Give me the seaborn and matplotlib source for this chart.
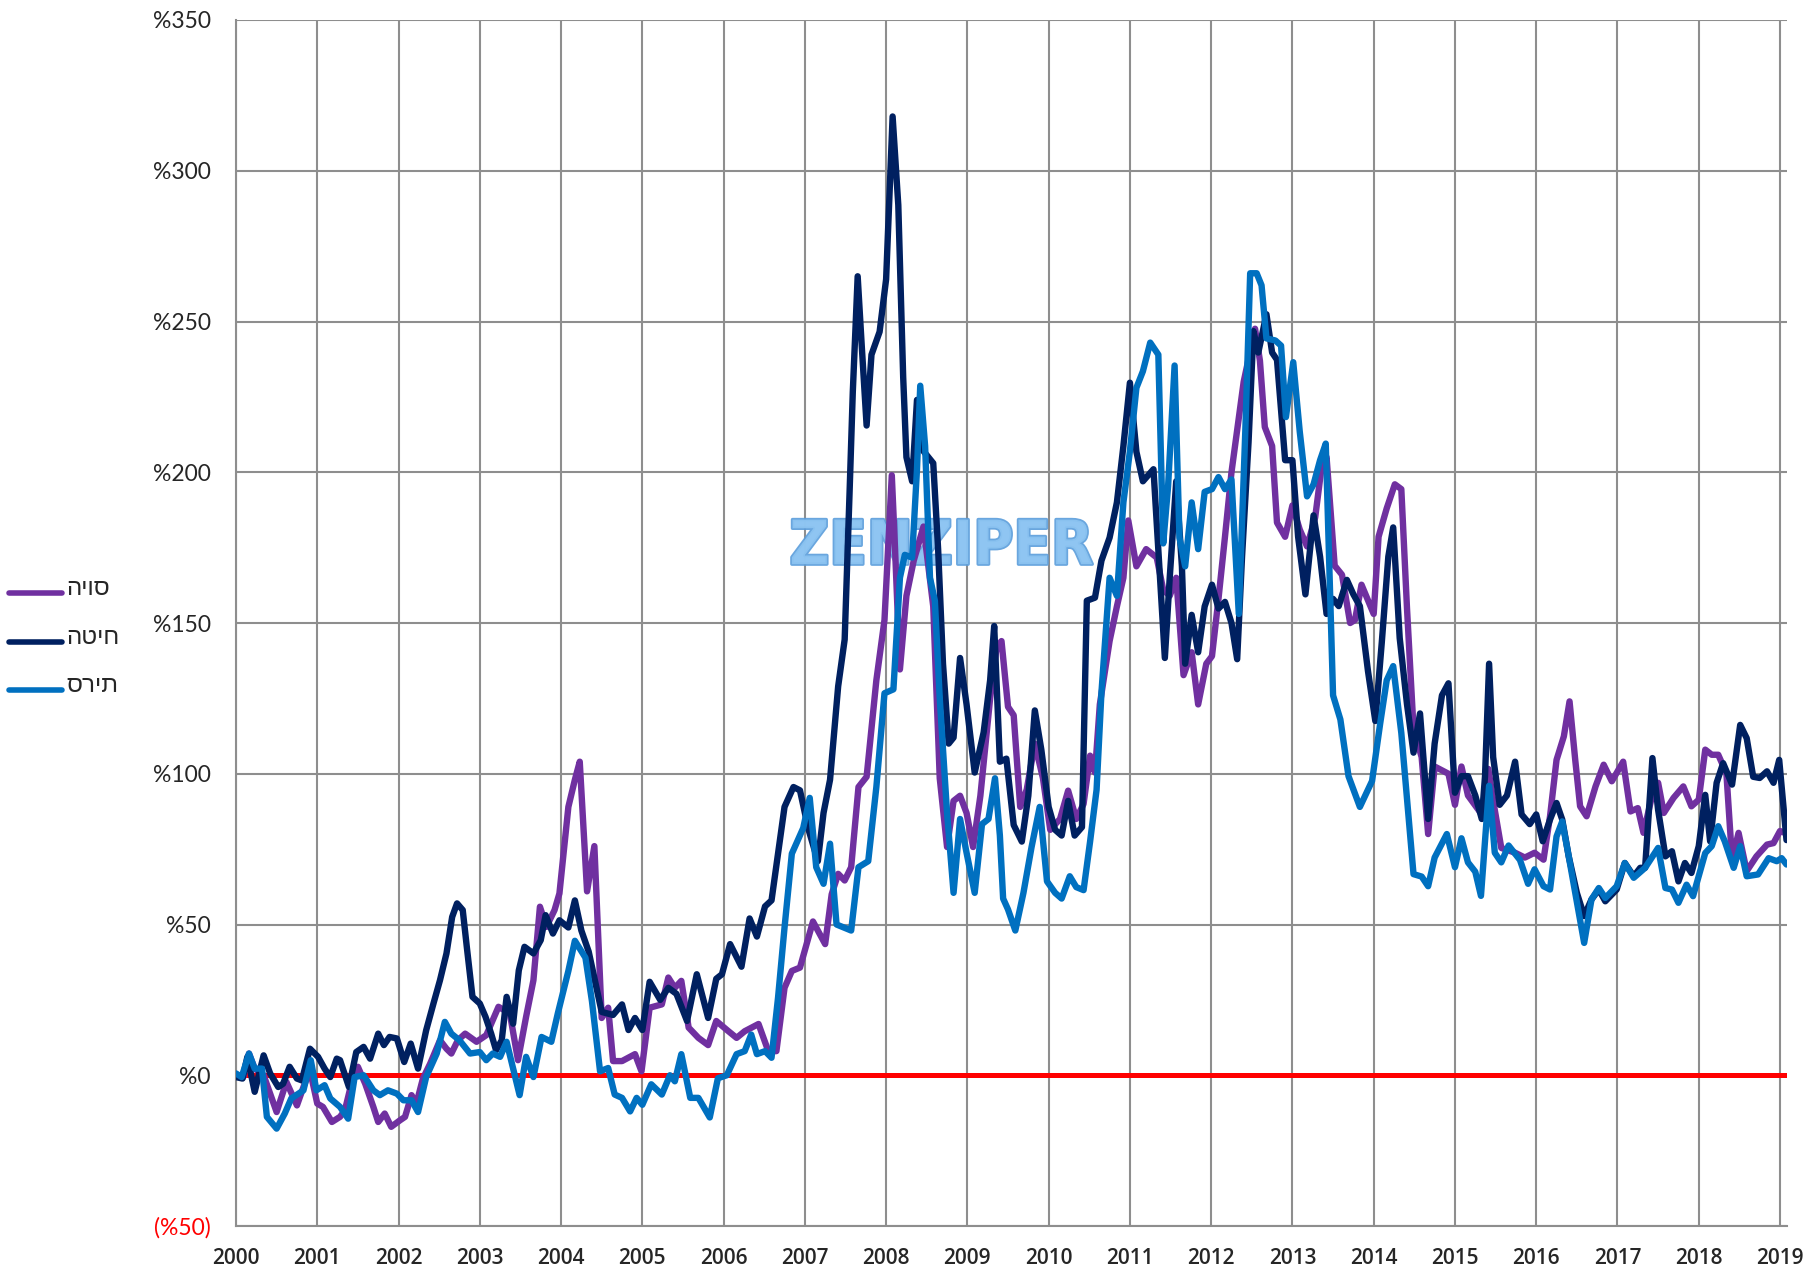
import numpy as np
import pandas as pd
import seaborn as sns
import matplotlib.pyplot as plt
import matplotlib.patheffects as pe
from matplotlib.lines import Line2D

# series names (legend order) and colours
names = ['סויה', 'חיטה', 'תירס']
colors = ['#7030A0', '#002060', '#0070C0']

# soy (סויה) - time in decimal years, value in %
soy_t = [2000.00, 2000.09, 2000.16, 2000.23, 2000.34, 2000.50, 2000.62, 2000.75, 2000.83, 2000.91,
         2001.00, 2001.07, 2001.18, 2001.28, 2001.34, 2001.42, 2001.50, 2001.59, 2001.69, 2001.75,
         2001.83, 2001.91, 2002.02, 2002.08, 2002.16, 2002.22, 2002.30, 2002.39, 2002.51, 2002.59,
         2002.65, 2002.73, 2002.82, 2002.96, 2003.08, 2003.23, 2003.37, 2003.47, 2003.57, 2003.66,
         2003.74, 2003.82, 2003.92, 2003.98, 2004.09, 2004.17, 2004.23, 2004.32, 2004.41, 2004.50,
         2004.58, 2004.64, 2004.75, 2004.91, 2004.99, 2005.09, 2005.24, 2005.32, 2005.40, 2005.48,
         2005.57, 2005.69, 2005.81, 2005.91, 2006.06, 2006.16, 2006.26, 2006.43, 2006.55, 2006.65,
         2006.75, 2006.84, 2006.94, 2007.10, 2007.25, 2007.33, 2007.41, 2007.49, 2007.57, 2007.66,
         2007.76, 2007.88, 2007.98, 2008.07, 2008.11, 2008.17, 2008.25, 2008.34, 2008.46, 2008.58,
         2008.66, 2008.75, 2008.83, 2008.91, 2008.99, 2009.07, 2009.16, 2009.28, 2009.36, 2009.42,
         2009.50, 2009.57, 2009.65, 2009.73, 2009.83, 2009.93, 2010.02, 2010.14, 2010.24, 2010.34,
         2010.43, 2010.51, 2010.57, 2010.63, 2010.75, 2010.84, 2010.92, 2010.98, 2011.08, 2011.20,
         2011.33, 2011.41, 2011.49, 2011.57, 2011.66, 2011.76, 2011.84, 2011.94, 2012.01, 2012.09,
         2012.17, 2012.25, 2012.40, 2012.54, 2012.60, 2012.66, 2012.75, 2012.81, 2012.91, 2013.00,
         2013.09, 2013.18, 2013.28, 2013.36, 2013.42, 2013.52, 2013.61, 2013.71, 2013.77, 2013.85,
         2014.00, 2014.06, 2014.16, 2014.26, 2014.34, 2014.41, 2014.49, 2014.59, 2014.67, 2014.75,
         2014.92, 2015.00, 2015.08, 2015.16, 2015.33, 2015.41, 2015.49, 2015.57, 2015.74, 2015.86,
         2015.98, 2016.09, 2016.17, 2016.25, 2016.34, 2016.41, 2016.48, 2016.54, 2016.62, 2016.73,
         2016.83, 2016.93, 2017.07, 2017.16, 2017.25, 2017.32, 2017.42, 2017.50, 2017.57, 2017.69,
         2017.81, 2017.91, 2018.00, 2018.08, 2018.16, 2018.24, 2018.34, 2018.41, 2018.49, 2018.59,
         2018.71, 2018.84, 2018.92, 2019.00, 2019.06]
soy_v = [0, -0.6, 7.2, 2.2, 0, -12.2, -2.2, -10, -3.9, 1.7,
         -9.4, -10.5, -15.5, -13.8, -11.6, -2.8, 2.8, -2.8, -10.5, -15.5,
         -12.7, -17.1, -14.9, -13.8, -6.6, -9.4, -1.1, 3.9, 11.6, 8.8,
         7.2, 11.6, 13.8, 11.1, 13.3, 22.7, 20.5, 5, 19.4, 31.5,
         55.9, 49.2, 54.8, 60.3, 89, 98, 104, 61, 76, 19,
         22.4, 4.7, 4.7, 7, 1.3, 22.4, 23.5, 32.4, 29, 31.3,
         15.8, 12.4, 10, 18, 14.6, 12.4, 14.6, 17, 8, 8,
         29, 34.6, 35.7, 51, 43.5, 60, 66.8, 64.6, 69, 95.6,
         99, 131, 151, 199, 174.5, 134.6, 159, 170.7, 182, 155.5,
         98.5, 75.7, 91, 92.7, 87, 75.7, 92.7, 125, 142, 144,
         122.2, 119.4, 89, 94.7, 110, 98.5, 81.4, 85, 94.4, 85,
         90, 106, 100.4, 123, 144, 155.5, 165, 184, 168.8, 174.5,
         171.7, 161, 159, 165, 132.7, 140.3, 123, 136.5, 139, 158,
         178.6, 200, 230, 247.6, 237, 215, 208.7, 183.3, 178.6, 189,
         181, 175.4, 185, 202, 205, 169, 166, 150, 151, 162.7,
         153, 178.6, 188, 196, 194.4, 154.8, 115, 105.5, 80, 102.4,
         100, 89.7, 102.4, 92.8, 86.5, 101.6, 88, 75.4, 73.8, 72.2,
         73.8, 71.5, 85.9, 104.6, 112.4, 124, 104.6, 89.2, 85.9, 95.8,
         103, 97.5, 104, 87.5, 88.6, 80.4, 92, 97, 87, 92,
         95.8, 89.2, 91.4, 108, 106.3, 106.3, 100.2, 71.5, 80.4, 67.7,
         72.6, 76.5, 77, 81, 80.4]

# wheat (חיטה)
wheat_t = [2000.00, 2000.08, 2000.14, 2000.23, 2000.34, 2000.42, 2000.52, 2000.58, 2000.66, 2000.75,
           2000.81, 2000.91, 2001.01, 2001.09, 2001.16, 2001.24, 2001.28, 2001.39, 2001.48, 2001.57,
           2001.65, 2001.75, 2001.82, 2001.89, 2001.98, 2002.07, 2002.15, 2002.24, 2002.34, 2002.43,
           2002.51, 2002.59, 2002.66, 2002.72, 2002.79, 2002.84, 2002.91, 2003.00, 2003.07, 2003.14,
           2003.20, 2003.27, 2003.33, 2003.41, 2003.48, 2003.55, 2003.66, 2003.75, 2003.81, 2003.90,
           2003.98, 2004.09, 2004.17, 2004.25, 2004.34, 2004.42, 2004.50, 2004.64, 2004.75, 2004.83,
           2004.91, 2005.00, 2005.09, 2005.22, 2005.32, 2005.42, 2005.55, 2005.67, 2005.81, 2005.91,
           2005.98, 2006.08, 2006.22, 2006.32, 2006.41, 2006.51, 2006.59, 2006.67, 2006.75, 2006.86,
           2006.94, 2007.04, 2007.16, 2007.23, 2007.31, 2007.41, 2007.49, 2007.55, 2007.59, 2007.65,
           2007.70, 2007.76, 2007.82, 2007.92, 2008.00, 2008.08, 2008.15, 2008.21, 2008.25, 2008.32,
           2008.38, 2008.46, 2008.58, 2008.64, 2008.70, 2008.77, 2008.83, 2008.91, 2008.99, 2009.09,
           2009.20, 2009.28, 2009.33, 2009.40, 2009.48, 2009.57, 2009.67, 2009.75, 2009.83, 2009.91,
           2010.00, 2010.08, 2010.16, 2010.24, 2010.32, 2010.41, 2010.47, 2010.57, 2010.65, 2010.75,
           2010.84, 2010.92, 2011.00, 2011.08, 2011.16, 2011.29, 2011.37, 2011.43, 2011.49, 2011.57,
           2011.64, 2011.68, 2011.76, 2011.84, 2011.92, 2012.01, 2012.09, 2012.17, 2012.25, 2012.32,
           2012.38, 2012.46, 2012.52, 2012.58, 2012.68, 2012.75, 2012.81, 2012.91, 2013.00, 2013.07,
           2013.16, 2013.26, 2013.34, 2013.42, 2013.50, 2013.57, 2013.67, 2013.75, 2013.83, 2013.93,
           2014.02, 2014.10, 2014.18, 2014.24, 2014.32, 2014.41, 2014.49, 2014.57, 2014.67, 2014.75,
           2014.84, 2014.92, 2015.00, 2015.08, 2015.16, 2015.25, 2015.33, 2015.37, 2015.42, 2015.47,
           2015.55, 2015.64, 2015.74, 2015.82, 2015.92, 2016.00, 2016.08, 2016.17, 2016.25, 2016.32,
           2016.40, 2016.50, 2016.59, 2016.68, 2016.77, 2016.85, 2016.99, 2017.09, 2017.20, 2017.28,
           2017.34, 2017.43, 2017.50, 2017.59, 2017.67, 2017.75, 2017.83, 2017.91, 2018.00, 2018.08,
           2018.14, 2018.22, 2018.30, 2018.41, 2018.51, 2018.59, 2018.67, 2018.75, 2018.84, 2018.92,
           2018.99, 2019.08]
wheat_v = [-0.6, -1.1, 6.1, -5.5, 6.6, 0.6, -3.9, -2.8, 2.8, -1.1,
           -1.7, 8.8, 6.1, 2.2, -0.6, 5.5, 5, -3.9, 7.7, 9.4,
           5.5, 13.8, 10, 12.7, 12.2, 4.4, 10.5, 2.2, 14.9, 23.8,
           31.5, 40.4, 52.5, 57, 54.8, 42.6, 26, 23.8, 19.4, 13.8,
           8.3, 11.6, 26, 17.1, 34.8, 42.6, 40.4, 44.8, 53.1, 47,
           51.4, 49, 58, 48, 41, 31, 21, 20, 23.5, 15,
           19, 15, 31, 25, 29, 27, 18, 33.5, 19, 32,
           33.5, 43.5, 36, 52, 46, 56, 58, 73.5, 89, 95.6,
           94.5, 82, 71, 87, 98, 129, 144.5, 193, 226.6, 265,
           242, 215.5, 239, 246.6, 264, 318, 288.6, 231.6, 205, 197,
           224, 207, 203, 174.5, 136.5, 110, 112, 138.4, 123, 100.4,
           113.7, 131, 149, 104, 105, 83, 77.5, 92.7, 121, 108,
           89, 81.4, 79.5, 91, 79.5, 82.3, 157.4, 158.4, 170.7, 178.3,
           190, 208.7, 229.7, 206.8, 197, 201, 165, 138.4, 165, 197,
           168.8, 136.5, 152.7, 140.3, 155.5, 162.7, 154.8, 157, 150, 138,
           172, 210, 246.8, 239.7, 252.4, 239.7, 237.3, 204, 204, 178.6,
           159.5, 185.7, 172, 153, 158, 155.6, 164.3, 159.5, 155.6, 134,
           117.5, 143.7, 172, 181.7, 145, 123, 107, 120, 85, 110,
           126, 130, 93.7, 99.2, 99.2, 92.8, 85, 99.2, 136.5, 105.5,
           89.7, 92.8, 104, 86.5, 83.3, 86.5, 77.6, 84.8, 90.3, 84.8,
           72.6, 60.5, 52.8, 58.3, 61.6, 57.7, 61.6, 70.4, 66, 68.8,
           68.8, 105.2, 88, 72.6, 74.3, 64.3, 70.4, 67.1, 76, 93,
           77.6, 97, 103.5, 96.4, 116.2, 111.8, 99, 98.6, 100.8, 97,
           104.6, 78]

# corn (תירס)
corn_t = [2000.00, 2000.07, 2000.16, 2000.23, 2000.32, 2000.38, 2000.50, 2000.60, 2000.68, 2000.83,
          2000.92, 2000.99, 2001.09, 2001.16, 2001.28, 2001.38, 2001.46, 2001.57, 2001.69, 2001.77,
          2001.87, 2001.98, 2002.06, 2002.16, 2002.24, 2002.34, 2002.47, 2002.57, 2002.65, 2002.75,
          2002.88, 2003.00, 2003.08, 2003.16, 2003.25, 2003.33, 2003.41, 2003.49, 2003.57, 2003.66,
          2003.76, 2003.88, 2003.96, 2004.09, 2004.17, 2004.30, 2004.38, 2004.48, 2004.58, 2004.66,
          2004.75, 2004.85, 2004.93, 2005.00, 2005.11, 2005.24, 2005.34, 2005.40, 2005.48, 2005.59,
          2005.69, 2005.83, 2005.93, 2006.04, 2006.16, 2006.26, 2006.34, 2006.41, 2006.51, 2006.59,
          2006.67, 2006.75, 2006.84, 2006.98, 2007.06, 2007.14, 2007.23, 2007.31, 2007.39, 2007.57,
          2007.66, 2007.78, 2007.88, 2007.98, 2008.09, 2008.17, 2008.23, 2008.32, 2008.38, 2008.42,
          2008.48, 2008.54, 2008.60, 2008.66, 2008.75, 2008.83, 2008.91, 2008.99, 2009.09, 2009.18,
          2009.26, 2009.34, 2009.40, 2009.44, 2009.50, 2009.59, 2009.69, 2009.79, 2009.89, 2009.98,
          2010.08, 2010.16, 2010.26, 2010.34, 2010.43, 2010.51, 2010.59, 2010.65, 2010.75, 2010.84,
          2010.92, 2011.00, 2011.08, 2011.16, 2011.25, 2011.35, 2011.41, 2011.47, 2011.55, 2011.61,
          2011.68, 2011.76, 2011.84, 2011.92, 2012.01, 2012.09, 2012.17, 2012.25, 2012.34, 2012.42,
          2012.48, 2012.56, 2012.62, 2012.68, 2012.79, 2012.86, 2012.92, 2013.01, 2013.09, 2013.18,
          2013.26, 2013.34, 2013.41, 2013.50, 2013.59, 2013.69, 2013.83, 2013.98, 2014.08, 2014.16,
          2014.24, 2014.34, 2014.49, 2014.59, 2014.67, 2014.75, 2014.90, 2015.00, 2015.08, 2015.16,
          2015.25, 2015.32, 2015.42, 2015.49, 2015.57, 2015.66, 2015.80, 2015.90, 2015.98, 2016.09,
          2016.17, 2016.25, 2016.32, 2016.40, 2016.48, 2016.59, 2016.68, 2016.77, 2016.85, 2016.99,
          2017.09, 2017.20, 2017.34, 2017.50, 2017.59, 2017.67, 2017.75, 2017.85, 2017.93, 2018.08,
          2018.16, 2018.24, 2018.32, 2018.43, 2018.51, 2018.59, 2018.73, 2018.86, 2018.96, 2019.02,
          2019.08]
corn_v = [0.6, -0.6, 7.2, 2.2, 2.2, -13.8, -17.7, -12.7, -7.7, -5,
          5, -5, -3.3, -7.7, -10.5, -14.4, -0.6, 0, -5, -6.6,
          -5, -6.1, -8.3, -8.3, -12.2, -0.6, 7.2, 17.7, 13.8, 11.6,
          7.2, 7.7, 5, 7.2, 6.1, 11.1, 2.2, -6.6, 6.1, -0.6,
          12.7, 11.1, 20.5, 34.6, 44.6, 39, 24.6, 1.3, 2.4, -6.4,
          -7.5, -12, -7.5, -9.8, -3, -6.4, 0, -2, 7, -7.5,
          -7.5, -14, -1, 0, 7, 8, 13.5, 7, 8, 5.8,
          25.7, 49, 73.5, 82, 92, 69, 63.5, 76.8, 50, 48,
          69, 71, 95.6, 126.7, 128, 165, 172.6, 171.7, 201, 228.7,
          208.7, 165, 157.4, 125, 87, 60.5, 85, 73.8, 60.5, 83.3,
          85, 98.5, 79.5, 58.6, 55, 48, 60.5, 75.7, 89, 64.3,
          60.5, 58.6, 66, 62.4, 61.4, 77.5, 94.7, 127, 165, 159,
          190, 207, 228, 233.5, 243, 239, 176.4, 195.4, 235.4, 178.3,
          168.8, 190, 174.5, 193.5, 194.4, 198.4, 194.4, 197.6, 153, 213.5,
          266, 266, 262, 244.4, 243.7, 242, 218.3, 236.5, 213.5, 192,
          196, 204, 209.5, 126, 118, 99.2, 89, 97.6, 116.7, 131,
          135.7, 113.5, 66.7, 65.9, 62.7, 72.2, 80, 69, 78.6, 70.6,
          67.5, 59.5, 96, 73.8, 70.6, 76.2, 71.4, 63.5, 68.3, 62.7,
          61.6, 79.2, 84.2, 72.6, 60.5, 43.9, 58.3, 62.1, 58.8, 62.7,
          70.4, 65.5, 68.8, 75.4, 62.1, 61.6, 57.2, 63.2, 59.4, 73.7,
          76, 82.6, 77.6, 68.8, 76, 66, 66.6, 72, 71, 72,
          69.9]

years = list(range(2000, 2020))
y_ticks = [-50, 0, 50, 100, 150, 200, 250, 300, 350]
y_labels = ['(%50)', '%0', '%50', '%100', '%150', '%200', '%250', '%300', '%350']

df = pd.concat([
    pd.DataFrame({'t': soy_t, 'v': soy_v, 'name': names[0]}),
    pd.DataFrame({'t': wheat_t, 'v': wheat_v, 'name': names[1]}),
    pd.DataFrame({'t': corn_t, 'v': corn_v, 'name': names[2]}),
])

sns.set_style('white')
plt.rcParams['font.family'] = ['Lato', 'DejaVu Sans']

W, H = 1806, 1275
fig = plt.figure(figsize=(W / 100, H / 100), dpi=100)
ax = fig.add_axes([236 / W, 1 - 1226 / H, (1787 - 236) / W, (1226 - 20) / H])

sns.lineplot(data=df, x='t', y='v', hue='name', palette=dict(zip(names, colors)),
             estimator=None, sort=False, linewidth=4.6, legend=False, ax=ax, zorder=4)
for ln in ax.lines:
    ln.set_solid_joinstyle('round')

ax.axhline(0, color='#ff0000', lw=3.6, zorder=3)

ax.set_xlim(2000, 2019.086)
ax.set_ylim(-50, 350)
ax.set(xlabel='', ylabel='')

ax.set_xticks(years)
ax.set_xticklabels([str(y) for y in years], fontfamily='Open Sans',
                   fontweight='semibold', fontsize=15)
ax.set_yticks(y_ticks)
ax.set_yticklabels(y_labels, fontsize=16.5)
ax.get_yticklabels()[0].set_color('#ff0000')
ax.tick_params(axis='x', length=0, pad=16)
ax.tick_params(axis='y', length=0, pad=18)

ax.grid(True, color='#8e8e8e', lw=1.5)
ax.set_axisbelow(True)
for s in ['top', 'right']:
    ax.spines[s].set_visible(False)
for s in ['left', 'bottom']:
    ax.spines[s].set_color('#8e8e8e')
    ax.spines[s].set_linewidth(1.5)

# watermark
ax.text(2008.68, 175, 'ZENZIPER', ha='center', va='center', fontsize=44,
        fontweight='bold', fontstretch='condensed', family=['DejaVu Sans'],
        color='#8ec5f2', alpha=0.9, zorder=2,
        path_effects=[pe.withStroke(linewidth=2.5, foreground='#5a9ddb')])

# legend on the left
leg_y = [593, 642, 690]
for name, c, y in zip(names, colors, leg_y):
    fig.add_artist(Line2D([9 / W, 62 / W], [1 - y / H, 1 - y / H], color=c, lw=4,
                          solid_capstyle='round'))
    # matplotlib has no bidi, so the Hebrew string is reversed for display
    fig.text(66 / W, 1 - (y - 4) / H, name[::-1], ha='left', va='center', fontsize=17.5,
             family=['Liberation Sans', 'DejaVu Sans'])

fig.savefig('out.png', dpi=100)
